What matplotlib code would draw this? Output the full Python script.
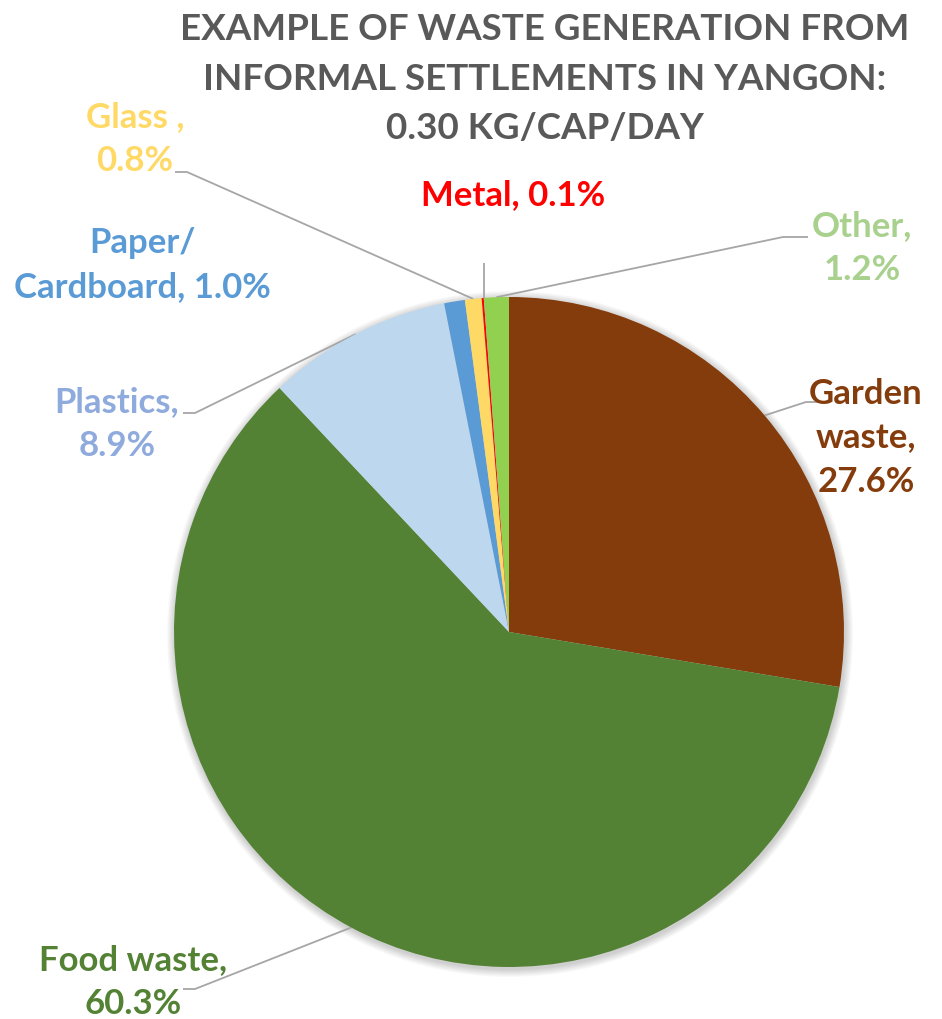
import numpy as np
import matplotlib
matplotlib.use("Agg")
import matplotlib.pyplot as plt
from matplotlib.patches import Circle

# data
categories = ["Garden waste", "Food waste", "Plastics", "Paper/\nCardboard", "Glass ", "Metal", "Other"]
shares = [27.6, 60.3, 8.9, 1.0, 0.8, 0.1, 1.2]
slice_colors = ["#843C0C", "#548235", "#BDD7EE", "#5B9BD5", "#FFD966", "#FF0000", "#92D050"]
label_colors = ["#843C0C", "#548235", "#8FAADC", "#5B9BD5", "#FFD966", "#FF0000", "#A9D18E"]
label_texts = ["Garden\nwaste,\n27.6%", "Food waste,\n60.3%", "Plastics,\n8.9%",
               "Paper/\nCardboard, 1.0%", "Glass ,\n0.8%", "Metal, 0.1%", "Other,\n1.2%"]
title = "EXAMPLE OF WASTE GENERATION FROM\nINFORMAL SETTLEMENTS IN YANGON:\n0.30 KG/CAP/DAY"

W, H = 942, 1019
FONT = "Lato"

fig = plt.figure(figsize=(W / 100, H / 100), dpi=100)
ax = fig.add_axes([0, 0, 1, 1])

cx, cy, r = 509, H - 632, 335

# soft shadow like the Excel one
for k in range(8):
    ax.add_patch(Circle((cx + 1, cy - 2), r + 1 + k, color="black", alpha=0.025, lw=0, zorder=0))

wedges, _ = ax.pie(shares, colors=slice_colors, startangle=90, counterclock=False,
                   center=(cx, cy), radius=r, wedgeprops=dict(linewidth=0))
for w in wedges:
    w.set_zorder(2)

ax.set_xlim(0, W)
ax.set_ylim(0, H)
ax.set_aspect("equal")
ax.axis("off")

# label layout: text centre (px from top-left), leader elbow points (None = no line)
text_pos = [(866, 438), (133, 982), (117, 424), (142, 265), (135, 139), (513, 195), (862, 248)]
elbows = [
    [(818, 402), (806, 402)],
    [(183, 989), (195, 989)],
    [(183, 413), (195, 413)],
    None,
    [(175, 172), (187, 172)],
    [(484, 263)],
    [(808, 237), (783, 237)],
]

for i, w in enumerate(wedges):
    ang = np.deg2rad((w.theta1 + w.theta2) / 2)
    ex, ey = cx + r * np.cos(ang), cy + r * np.sin(ang)
    if elbows[i] is not None:
        pts = [(x, H - y) for x, y in elbows[i]]
        if i == 5:
            pts = [pts[0], (pts[0][0], ey)]
        else:
            pts = pts + [(ex, ey)]
        xs, ys = zip(*pts)
        ax.plot(xs, ys, color="#A6A6A6", lw=1.3, zorder=1, solid_capstyle="butt")
    tx, ty = text_pos[i]
    ax.text(tx, H - ty, label_texts[i], color=label_colors[i], fontsize=25, fontweight="bold",
            family=FONT, ha="center", va="center", linespacing=1.45, zorder=3)

ax.text(545, H - 79, title, color="#595959", fontsize=26.5, fontweight="bold", family=FONT,
        ha="center", va="center", linespacing=1.6)

fig.savefig("out.png", dpi=100)
